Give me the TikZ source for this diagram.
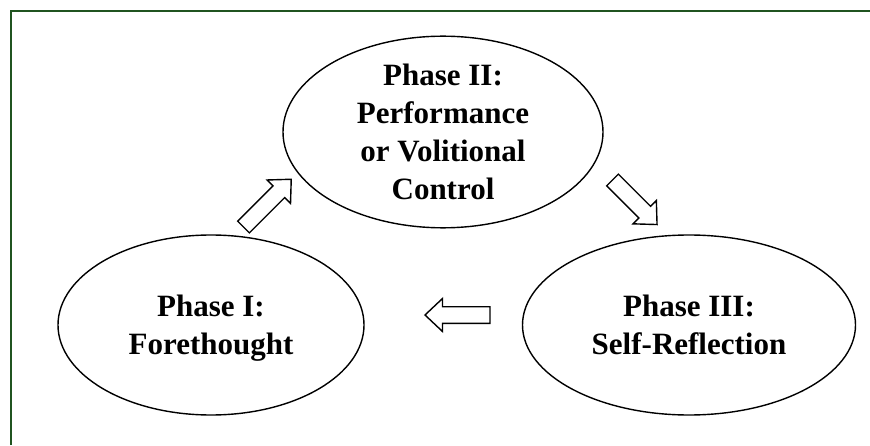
\documentclass[tikz,border=0pt]{standalone}
\usepackage{fontspec}
\setmainfont{Liberation Serif}
\usetikzlibrary{shapes.geometric}
\definecolor{framegreen}{RGB}{32,84,32}
\tikzset{
  phase/.style={draw=black, line width=1.4pt, ellipse, inner sep=0pt,
    align=center, text depth=0pt,
    font=\bfseries\fontsize{31}{38}\selectfont},
  blockline/.style={draw=black, fill=white, line width=1.4pt, line join=miter},
  pics/blockarr/.style={code={
    \path[blockline] (0,-8.3) -- ({#1-17.5},-8.3) -- ({#1-17.5},-16.5)
      -- (#1,0) -- ({#1-17.5},16.5) -- ({#1-17.5},8.3) -- (0,8.3) -- cycle;
  }}
}
\begin{document}
\begin{tikzpicture}[x=1pt, y=1pt]
  \useasboundingbox (0,0) rectangle (870,445);
  % frame (open on the right and at the bottom)
  \draw[framegreen, line width=2.4pt] (11,0) -- (11,434) -- (870,434);

  % the three phases
  \node[phase, minimum width=320pt, minimum height=180pt] (p2) at (443,313)
    {Phase II:\\Performance\\or Volitional\\Control};
  \node[phase, minimum width=306pt, minimum height=180pt] (p1) at (211,120)
    {Phase I:\\Forethought};
  \node[phase, minimum width=333pt, minimum height=180pt] (p3) at (689,120)
    {Phase III:\\Self-Reflection};

  % block arrows of the cycle
  \pic[rotate=45]  at (243.5,218) {blockarr=67.5};
  \pic[rotate=-45] at (612.5,265) {blockarr=63};
  \pic[rotate=180] at (490,130)   {blockarr=65};
\end{tikzpicture}
\end{document}
